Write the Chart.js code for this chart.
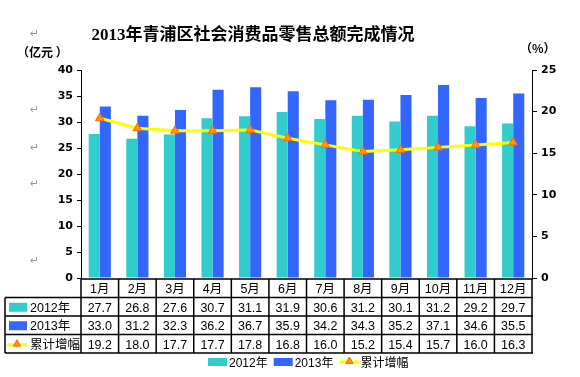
<!DOCTYPE html>
<html>
<head>
<meta charset="utf-8">
<script src="https://cdn.jsdelivr.net/npm/chart.js@4"></script>
<style>
  html, body { margin: 0; padding: 0; background: #fff; }
  #wrap { width: 580px; height: 377px; }
</style>
</head>
<body>
<div id="wrap"><canvas id="chart" width="580" height="377"></canvas></div>
<script>
const months = ['1月', '2月', '3月', '4月', '5月', '6月', '7月', '8月', '9月', '10月', '11月', '12月'];
const sales2012 = [27.7, 26.8, 27.6, 30.7, 31.1, 31.9, 30.6, 31.2, 30.1, 31.2, 29.2, 29.7];
const sales2013 = [33.0, 31.2, 32.3, 36.2, 36.7, 35.9, 34.2, 34.3, 35.2, 37.1, 34.6, 35.5];
const growth = [19.2, 18.0, 17.7, 17.7, 17.8, 16.8, 16.0, 15.2, 15.4, 15.7, 16.0, 16.3];
const leftTicks = [0, 40, 5];
const rightTicks = [0, 25, 5];

const TEAL = '#33CCCC';
const BLUE = '#3366FF';
const YELLOW = '#FFFF00';
const ORANGE = '#FF9900';
const ORANGE_DARK = '#FF6600';

const tickFont = { family: 'DejaVu Sans', size: 11, weight: 'bold' };
const CELL_FONT = '12.5px "Liberation Sans", "Noto Sans CJK SC"';

// 小三角（图例和表格用）
function drawTriangle(ctx, x, y, r) {
    ctx.beginPath();
    ctx.moveTo(x, y - r);
    ctx.lineTo(x + r * 0.9, y + r * 0.6);
    ctx.lineTo(x - r * 0.9, y + r * 0.6);
    ctx.closePath();
    ctx.fillStyle = ORANGE;
    ctx.fill();
    ctx.strokeStyle = ORANGE_DARK;
    ctx.lineWidth = 1;
    ctx.stroke();
}

function drawLineSwatch(ctx, x, y) {
    ctx.strokeStyle = YELLOW;
    ctx.lineWidth = 3;
    ctx.beginPath();
    ctx.moveTo(x, y);
    ctx.lineTo(x + 20, y);
    ctx.stroke();
    drawTriangle(ctx, x + 10, y - 1, 4);
}

// 标题、单位、数据表、图例
const extras = {
    id: 'extras',
    afterDraw(chart) {
        const ctx = chart.ctx;
        const area = chart.chartArea;
        const xs = chart.scales.x;
        ctx.save();

        ctx.fillStyle = '#000';
        ctx.textAlign = 'center';
        ctx.textBaseline = 'alphabetic';
        ctx.font = 'bold 17px "Liberation Serif", "Noto Sans CJK SC"';
        ctx.fillText('2013年青浦区社会消费品零售总额完成情况', 253, 40);

        ctx.font = 'bold 12px "Noto Sans CJK SC"';
        ctx.textAlign = 'left';
        ctx.fillText('（亿元 ）', 17, 57);
        ctx.fillText('（%）', 520, 53);

        // 段落标记
        ctx.fillStyle = '#999';
        ctx.font = '11px "DejaVu Sans"';
        [37, 113, 151, 187, 264].forEach(y => ctx.fillText('↵', 30, y));

        // 数据表
        const tableLeft = 5;
        const top = area.bottom + 1;
        const rowH = 18.5;
        const colW = (area.right - area.left) / months.length;
        const bottom = top + rowH * 4;
        ctx.strokeStyle = '#000';
        ctx.lineWidth = 1.5;
        ctx.beginPath();
        ctx.moveTo(area.left, top);
        ctx.lineTo(area.right + 1, top);
        for (let r = 1; r <= 4; r++) {
            ctx.moveTo(tableLeft, top + rowH * r);
            ctx.lineTo(area.right + 1, top + rowH * r);
        }
        ctx.moveTo(tableLeft, top + rowH);
        ctx.lineTo(tableLeft, bottom);
        for (let c = 0; c <= months.length; c++) {
            const x = area.left + colW * c;
            ctx.moveTo(x, top);
            ctx.lineTo(x, bottom);
        }
        ctx.stroke();

        ctx.fillStyle = '#000';
        ctx.textAlign = 'center';
        ctx.font = CELL_FONT;
        const rows = [months, sales2012.map(v => v.toFixed(1)), sales2013.map(v => v.toFixed(1)), growth.map(v => v.toFixed(1))];
        rows.forEach((row, r) => {
            row.forEach((txt, i) => {
                ctx.fillText(txt, xs.getPixelForValue(i), top + rowH * r + 14);
            });
        });

        // 表格左侧的系列名
        ctx.textAlign = 'left';
        const labels = ['2012年', '2013年', '累计增幅'];
        labels.forEach((lab, i) => {
            const cy = top + rowH * (i + 1) + rowH / 2;
            if (i === 0 || i === 1) {
                ctx.fillStyle = i === 0 ? TEAL : BLUE;
                ctx.fillRect(9, cy - 4, 18, 9);
            } else {
                drawLineSwatch(ctx, 7, cy + 1);
            }
            ctx.fillStyle = '#000';
            ctx.fillText(lab, 30, cy + 5);
        });

        // 底部图例
        const ly = 362;
        let lx = 208;
        ctx.font = '12px "Liberation Sans", "Noto Sans CJK SC"';
        const items = [['2012年', TEAL], ['2013年', BLUE], ['累计增幅', null]];
        items.forEach(([lab, col]) => {
            if (col) {
                ctx.fillStyle = col;
                ctx.fillRect(lx, ly - 4, 19, 8);
            } else {
                drawLineSwatch(ctx, lx, ly);
            }
            lx += 21;
            ctx.fillStyle = '#000';
            ctx.fillText(lab, lx, ly + 5);
            lx += ctx.measureText(lab).width + 6;
        });

        ctx.restore();
    }
};

new Chart(document.getElementById('chart'), {
    type: 'bar',
    data: {
        labels: months,
        datasets: [
            {
                type: 'line',
                label: '累计增幅',
                data: growth,
                yAxisID: 'y2',
                borderColor: YELLOW,
                borderWidth: 3,
                pointStyle: 'triangle',
                pointRadius: 5,
                pointBackgroundColor: ORANGE,
                pointBorderColor: ORANGE_DARK,
                pointBorderWidth: 1,
                tension: 0,
                order: 0
            },
            {
                label: '2012年',
                data: sales2012,
                backgroundColor: TEAL,
                yAxisID: 'y',
                order: 1
            },
            {
                label: '2013年',
                data: sales2013,
                backgroundColor: BLUE,
                yAxisID: 'y',
                order: 2
            }
        ]
    },
    options: {
        responsive: false,
        animation: false,
        layout: { padding: { top: 70, bottom: 99, left: 0, right: 0 } },
        datasets: {
            bar: { barPercentage: 1, categoryPercentage: 0.59 }
        },
        plugins: {
            legend: { display: false },
            tooltip: { enabled: false }
        },
        scales: {
            x: { display: false, offset: true },
            y: {
                position: 'left',
                min: leftTicks[0],
                max: leftTicks[1],
                ticks: { stepSize: leftTicks[2], color: '#000', font: tickFont, padding: 4 },
                grid: { drawOnChartArea: false, tickLength: 4, color: '#000' },
                border: { color: '#000' },
                afterFit(s) { s.width = 81; }
            },
            y2: {
                position: 'right',
                min: rightTicks[0],
                max: rightTicks[1],
                ticks: { stepSize: rightTicks[2], color: '#000', font: tickFont, padding: 4 },
                grid: { drawOnChartArea: false, tickLength: 5, color: '#000' },
                border: { color: '#000' },
                afterFit(s) { s.width = 48; }
            }
        }
    },
    plugins: [extras]
});
</script>
</body>
</html>
